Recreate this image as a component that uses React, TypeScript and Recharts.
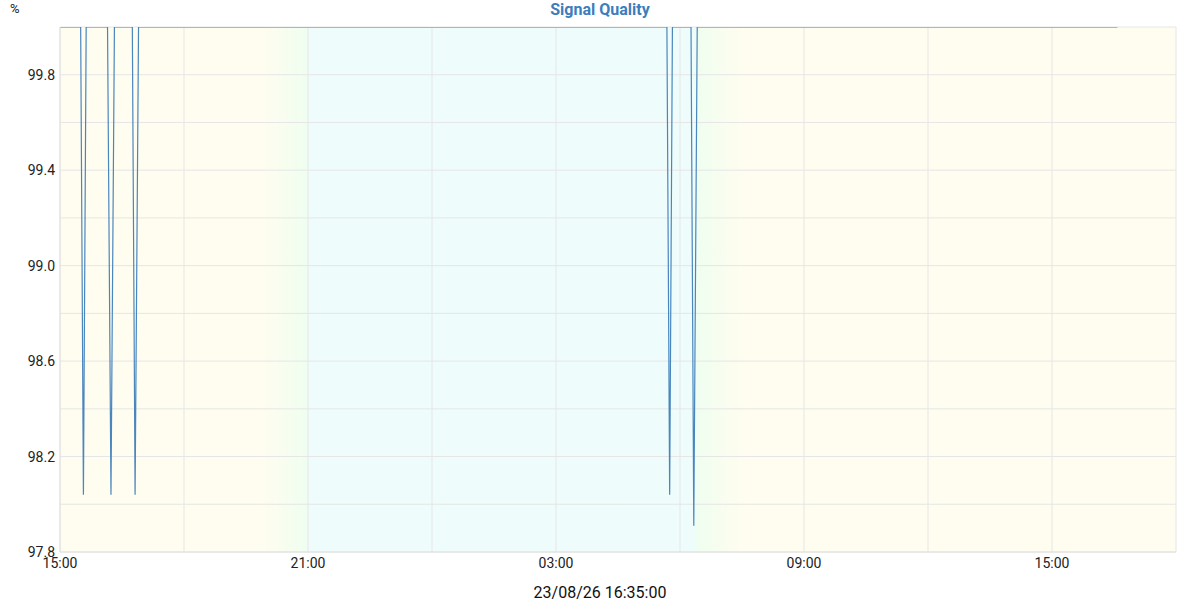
import React from "react";
import { LineChart, Line, XAxis, YAxis, CartesianGrid } from "recharts";

// minutes since 15:00 on the first day
const times = [0, 30, 34, 38, 69, 74, 79, 105, 109, 114, 881, 885, 889, 916, 920, 925, 1535];
const quality = [100, 100, 98.04, 100, 100, 98.04, 100, 100, 98.04, 100, 100, 98.04, 100, 100, 97.91, 100, 100];

const gridTicksY = [97.8, 98.0, 98.2, 98.4, 98.6, 98.8, 99.0, 99.2, 99.4, 99.6, 99.8, 100.0];
const labelTicksY = [97.8, 98.2, 98.6, 99.0, 99.4, 99.8];
const ticksX = [0, 180, 360, 540, 720, 900, 1080, 1260, 1440, 1620];
const labelTicksX = ["15:00", "", "21:00", "", "03:00", "", "09:00", "", "15:00", ""];

const title = "Signal Quality";
const unit = "%";
const timestamp = "23/08/26 16:35:00";

const data = times.map((t, i) => ({ t, q: quality[i] }));

const font = "Roboto, 'Noto Sans', sans-serif";

export default function App() {
  return (
    <div
      style={{
        position: "absolute",
        left: 0,
        top: 0,
        width: 1200,
        height: 600,
        background: "#fff",
        fontFamily: font,
      }}
    >
      <div
        style={{
          position: "absolute",
          left: 0,
          width: 1200,
          top: 0,
          textAlign: "center",
          fontSize: 16,
          fontWeight: 700,
          color: "#3b7dbd",
          lineHeight: "20px",
        }}
      >
        {title}
      </div>
      <div style={{ position: "absolute", left: 10, top: 1, fontSize: 13, color: "#222" }}>
        {unit}
      </div>
      <div
        style={{
          position: "absolute",
          left: 0,
          width: 1200,
          top: 583,
          textAlign: "center",
          fontSize: 16,
          color: "#111",
          lineHeight: "20px",
        }}
      >
        {timestamp}
      </div>
      <LineChart
        width={1200}
        height={600}
        data={data}
        margin={{ top: 27, right: 24, left: 0, bottom: 13 }}
      >
        <defs>
          <linearGradient id="dayNight" x1="0" y1="0" x2="1" y2="0">
            <stop offset="0" stopColor="#fefdef" />
            <stop offset="0.184" stopColor="#fefdef" />
            <stop offset="0.221" stopColor="#effef0" />
            <stop offset="0.222" stopColor="#eefcfb" />
            <stop offset="0.567" stopColor="#eefcfc" />
            <stop offset="0.571" stopColor="#effef0" />
            <stop offset="0.609" stopColor="#fefdef" />
            <stop offset="1" stopColor="#fefdef" />
          </linearGradient>
        </defs>
        <CartesianGrid stroke="#e6e6e6" fill="url(#dayNight)" fillOpacity={1} />
        <XAxis
          dataKey="t"
          type="number"
          domain={[0, 1620]}
          ticks={ticksX}
          interval={0}
          tickFormatter={(v: number) => labelTicksX[ticksX.indexOf(v)] ?? ""}
          tick={{ fill: "#222", fontSize: 14, fontFamily: font }}
          tickLine={false}
          axisLine={{ stroke: "#e0e0e0" }}
          tickSize={4}
          tickMargin={2}
          height={35}
        />
        <YAxis
          type="number"
          domain={[97.8, 100]}
          ticks={gridTicksY}
          interval={0}
          allowDataOverflow
          tickFormatter={(v: number) =>
            labelTicksY.some((l) => Math.abs(l - v) < 1e-6) ? v.toFixed(1) : ""
          }
          tick={{ fill: "#222", fontSize: 14, fontFamily: font }}
          tickLine={false}
          axisLine={{ stroke: "#e0e0e0" }}
          tickSize={3}
          tickMargin={2}
          width={60}
        />
        <Line
          type="linear"
          dataKey="q"
          stroke="#4a86be"
          strokeWidth={1.2}
          dot={false}
          isAnimationActive={false}
        />
      </LineChart>
    </div>
  );
}
